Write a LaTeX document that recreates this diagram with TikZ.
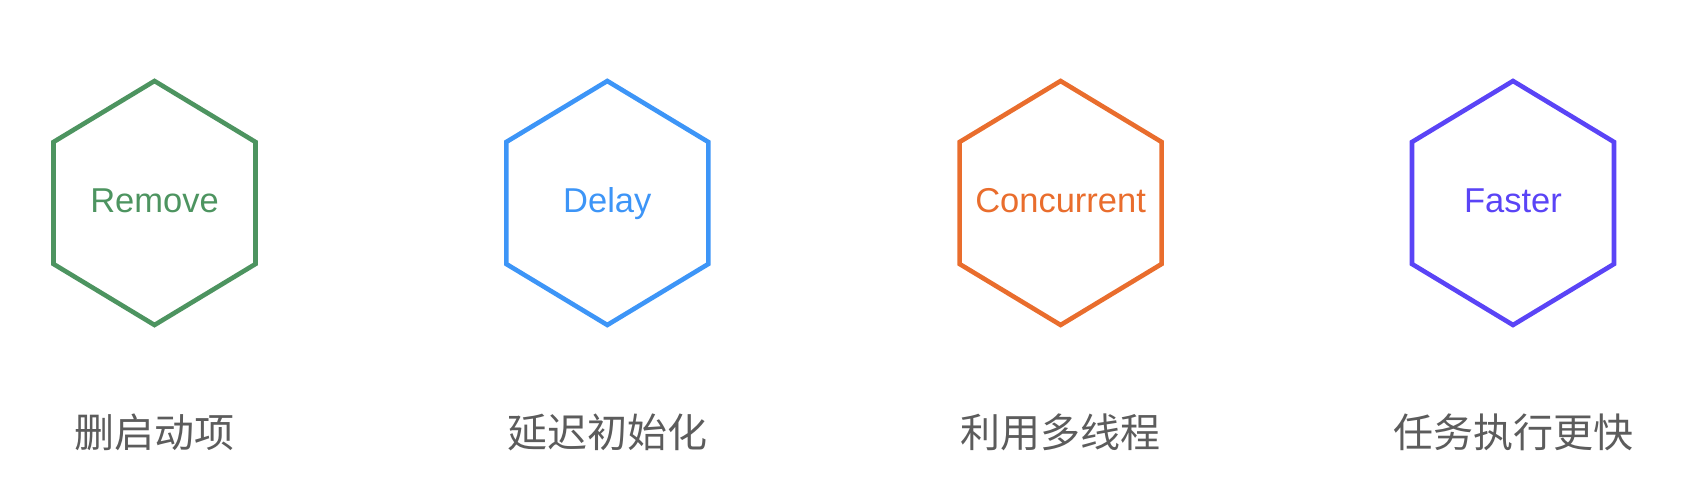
\documentclass[tikz,border=0pt]{standalone}
\usepackage{fontspec}
\setmainfont{Liberation Sans}
\newfontfamily\cjk{Noto Sans CJK SC}
\usetikzlibrary{positioning}

\definecolor{hexgreen}{HTML}{4D9460}
\definecolor{hexblue}{HTML}{3D95F7}
\definecolor{hexorange}{HTML}{E96D2D}
\definecolor{hexpurple}{HTML}{5A44F6}
\definecolor{labgray}{HTML}{5C5C5C}

\tikzset{
  hexline/.style={line width=4.6pt, line join=miter},
  tag/.style={font=\fontsize{34.5}{38}\selectfont, anchor=base, inner sep=0pt},
  cnlabel/.style={font=\cjk\fontsize{40}{44}\selectfont, text=labgray, inner sep=0pt}
}

\begin{document}
\begin{tikzpicture}[x=1pt, y=-1pt]
\useasboundingbox (0,0) rectangle (1698,502);

% Four hexagons with their captions
\foreach \cx/\col/\name/\lab/\cn in {154.5/hexgreen/remove/Remove/删启动项,
                                     607.3/hexblue/delay/Delay/延迟初始化,
                                     1060.6/hexorange/concur/Concurrent/利用多线程,
                                     1513/hexpurple/faster/Faster/任务执行更快} {
  \draw[hexline, draw=\col] (\cx,81) -- (\cx+101,142) -- (\cx+101,264)
        -- (\cx,325) -- (\cx-101,264) -- (\cx-101,142) -- cycle;
  \node[tag, text=\col] (\name) at (\cx,213) {\lab};
  \node[cnlabel] (\name-cn) at (\cx,432) {\cn};
}
\end{tikzpicture}
\end{document}
